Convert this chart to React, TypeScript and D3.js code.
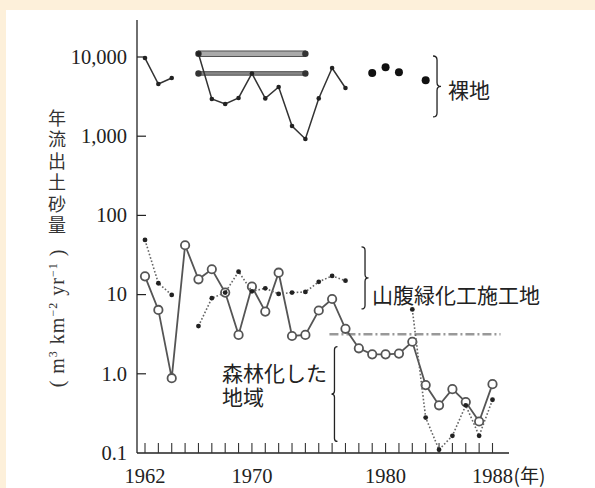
import * as d3 from 'd3';

// years on the x axis
const years = [1962, 1963, 1964, 1965, 1966, 1967, 1968, 1969, 1970, 1971, 1972, 1973, 1974, 1975,
  1976, 1977, 1978, 1979, 1980, 1981, 1982, 1983, 1984, 1985, 1986, 1987, 1988];

// hillside planting site (open circles, solid line)
const slopeOpen = [17, 6.4, 0.88, 42, 15.6, 20.9, 10.6, 3.1, 12.6, 6.1, 18.9, 3.0, 3.1, 6.3,
  8.8, 3.7, 2.1, 1.76, 1.76, 1.8, 2.54, 0.72, 0.4, 0.64, 0.44, 0.25, 0.74];

// second plot (small dots, dotted line)
const slopeDotted = [49, 13.9, 9.9, null, 4.0, 9.0, 10.6, 19.5, 11, 12, 10.2, 10.6, 10.8, 14.5,
  17.2, 15, null, null, null, null, 6.5, 0.28, 0.11, 0.165, 0.4, 0.165, 0.47];

// bare land
const bareYears = [1962, 1963, 1964, 1965, 1966, 1967, 1968, 1969, 1970, 1971, 1972, 1973, 1974,
  1975, 1976, 1977];
const bareLine = [9700, 4560, 5430, null, 11000, 2950, 2550, 3040, 6200, 3000, 4180, 1345, 922,
  3000, 7260, 4060];
const bareDotYears = [1979, 1980, 1981, 1983];
const bareDots = [6300, 7400, 6400, 5100];

// range bars over bare land
const barStart = [1966, 1966];
const barEnd = [1974, 1974];
const barValue = [11000, 6200];

// dash-dot level
const refFrom = 1975.8;
const refTo = 1988.6;
const refValue = 3.15;

const yTicks = [10000, 1000, 100, 10, 1, 0.1];
const yTickLabels = ['10,000', '1,000', '100', '10', '1.0', '0.1'];
const xLabelYears = [1962, 1970, 1980, 1988];

const W = 595;
const H = 488;
const serif = '"Liberation Serif", "DejaVu Serif", serif';
const cjk = '"Noto Sans CJK JP", "Noto Sans CJK SC", sans-serif';

function brace(x: number, y1: number, y2: number, w: number, dir: number) {
  const ym = (y1 + y2) / 2;
  const xs = x + (dir * w) / 2;
  const xt = x + dir * w;
  const r = Math.min(w / 2, (y2 - y1) / 6);
  return `M${x},${y1} Q${xs},${y1} ${xs},${y1 + r} L${xs},${ym - r} Q${xs},${ym} ${xt},${ym}` +
    ` Q${xs},${ym} ${xs},${ym + r} L${xs},${y2 - r} Q${xs},${y2} ${x},${y2}`;
}

export default function App() {
  const x = d3.scaleLinear().domain([1962, 1988]).range([145, 492.5]);
  const y = d3.scaleLog().domain([0.1, 10000]).range([453, 57]);

  const axisX = 137;
  const axisY = 453;

  const line = d3.line<[number, number | null]>()
    .defined(d => d[1] != null)
    .x(d => x(d[0]))
    .y(d => y(d[1] as number));

  const openPts = years.map((yr, i) => [yr, slopeOpen[i]] as [number, number | null]);
  const dotPts = years.map((yr, i) => [yr, slopeDotted[i]] as [number, number | null]);
  const barePts = bareYears.map((yr, i) => [yr, bareLine[i]] as [number, number | null]);

  return (
    <svg width={W} height={H} style={{ position: 'absolute', left: 0, top: 0 }}>
      <rect x={0} y={0} width={W} height={H} fill="#fdf0da" />
      <rect x={6} y={10} width={W - 6} height={H - 10} fill="#ffffff" />

      {/* axes */}
      <line x1={axisX} x2={axisX} y1={20} y2={axisY} stroke="#222" strokeWidth={1.3} />
      <line x1={axisX} x2={509} y1={axisY} y2={axisY} stroke="#222" strokeWidth={1.3} />
      {yTicks.map((t, i) => (
        <g key={t}>
          {i < yTicks.length - 1 && (
            <line x1={axisX} x2={axisX + 9} y1={y(t)} y2={y(t)} stroke="#222" strokeWidth={1.2} />
          )}
          <text x={127} y={y(t)} dy="0.33em" textAnchor="end" fontFamily={serif} fontSize={20.5}
            fill="#222">{yTickLabels[i]}</text>
        </g>
      ))}
      {years.map(yr => (
        <line key={yr} x1={x(yr)} x2={x(yr)} y1={axisY} y2={axisY - 10} stroke="#333" strokeWidth={1.1} />
      ))}
      {xLabelYears.map(yr => (
        <text key={yr} x={x(yr)} y={483} textAnchor="middle" fontFamily={serif} fontSize={20.5}
          fill="#222">{yr}</text>
      ))}
      <text x={x(1988) + 21} y={483} fontFamily={cjk} fontSize={19} fill="#222">(年)</text>

      {/* y title, stacked vertically */}
      <text x={57} y={109} writingMode="vertical-rl" fontFamily={cjk} fontSize={18}
        letterSpacing={3.5} fill="#333">年流出土砂量</text>
      <text transform="translate(57,318) rotate(-90)" textAnchor="middle" dy="0.33em"
        fontFamily={serif} fontSize={20} fill="#333" letterSpacing={1}>
        <tspan>( m</tspan>
        <tspan dy={-7} fontSize={12}>3</tspan>
        <tspan dy={7}> km</tspan>
        <tspan dy={-7} fontSize={12}>−2</tspan>
        <tspan dy={7}> yr</tspan>
        <tspan dy={-7} fontSize={12}>−1</tspan>
        <tspan dy={7}> )</tspan>
      </text>

      {/* range bars */}
      {barValue.map((v, i) => {
        const h = i === 0 ? 5.5 : 3.5;
        return (
          <g key={i}>
            <rect x={x(barStart[i])} y={y(v) - h / 2} width={x(barEnd[i]) - x(barStart[i])} height={h}
              fill={i === 0 ? '#aaa' : '#888'} stroke="#444" strokeWidth={0.9} />
            <circle cx={x(barStart[i])} cy={y(v)} r={3.2} fill="#333" />
            <circle cx={x(barEnd[i])} cy={y(v)} r={3.2} fill="#333" />
          </g>
        );
      })}

      {/* bare land */}
      <path d={line(barePts) ?? ''} fill="none" stroke="#333" strokeWidth={1.5} />
      {barePts.filter(d => d[1] != null).map(d => (
        <circle key={d[0]} cx={x(d[0])} cy={y(d[1] as number)} r={2.3} fill="#222" />
      ))}
      {bareDotYears.map((yr, i) => (
        <circle key={yr} cx={x(yr)} cy={y(bareDots[i])} r={4} fill="#111" />
      ))}

      {/* dash-dot level */}
      <line x1={x(refFrom)} x2={x(refTo)} y1={y(refValue)} y2={y(refValue)} stroke="#999"
        strokeWidth={2.5} strokeDasharray="9,3,2,3" />

      {/* open circle series */}
      <path d={line(openPts) ?? ''} fill="none" stroke="#555" strokeWidth={1.8} />
      {openPts.map(d => (
        <circle key={d[0]} cx={x(d[0])} cy={y(d[1] as number)} r={4.2} fill="#fff" stroke="#555"
          strokeWidth={1.8} />
      ))}

      {/* dotted series */}
      <path d={line(dotPts) ?? ''} fill="none" stroke="#666" strokeWidth={1.6} strokeDasharray="1.6,2" />
      {dotPts.filter(d => d[1] != null).map(d => (
        <circle key={d[0]} cx={x(d[0])} cy={y(d[1] as number)} r={2.4} fill="#222" />
      ))}

      {/* annotations */}
      <path d={brace(x(1983.55), y(10300), y(1750), 8, 1)} fill="none" stroke="#222" strokeWidth={1.3} />
      <text x={448} y={98} fontFamily={cjk} fontSize={21} fill="#222">裸地</text>

      <path d={brace(x(1978.2), y(40), y(6.6), 7, 1)} fill="none" stroke="#222" strokeWidth={1.3} />
      <text x={372} y={303} fontFamily={cjk} fontSize={21} fill="#222">山腹緑化工施工地</text>

      <path d={brace(x(1976.4), y(2.2), y(0.14), 6, -1)} fill="none" stroke="#222" strokeWidth={1.3} />
      <text fontFamily={cjk} fontSize={21} fill="#222">
        <tspan x={222} y={381}>森林化した</tspan>
        <tspan x={222} y={405}>地域</tspan>
      </text>
    </svg>
  );
}
